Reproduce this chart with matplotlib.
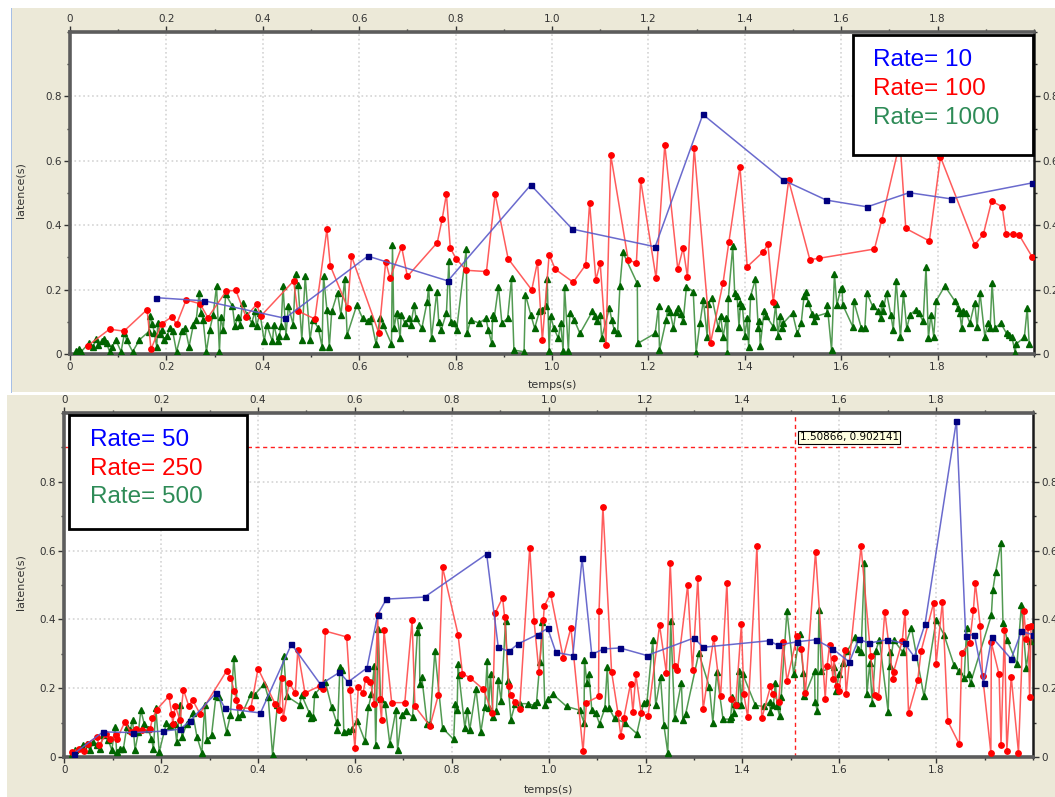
import matplotlib
matplotlib.use("Agg")
import matplotlib.pyplot as plt
from matplotlib.patches import Rectangle
from matplotlib.ticker import FixedLocator, FixedFormatter, MultipleLocator

W, H = 1055, 797

# ---- top panel: Rate = 10 / 100 / 1000 ----
t10 = [0.178, 0.279, 0.446, 0.618, 0.784, 0.956, 1.042, 1.214, 1.313, 1.480,
       1.569, 1.654, 1.741, 1.827, 1.995]
lat10 = [0.175, 0.165, 0.111, 0.304, 0.227, 0.525, 0.388, 0.333, 0.744, 0.540,
         0.478, 0.457, 0.501, 0.482, 0.531]

t100 = [0.037, 0.082, 0.112, 0.160, 0.168, 0.190, 0.212, 0.221, 0.241, 0.270,
        0.286, 0.324, 0.344, 0.365, 0.387, 0.396, 0.464, 0.472, 0.508, 0.533,
        0.540, 0.576, 0.584, 0.641, 0.655, 0.664, 0.688, 0.700, 0.762, 0.772,
        0.781, 0.789, 0.801, 0.822, 0.864, 0.882, 0.909, 0.958, 0.970, 0.980,
        0.994, 1.007, 1.044, 1.070, 1.078, 1.091, 1.100, 1.112, 1.122, 1.158,
        1.175, 1.184, 1.216, 1.234, 1.261, 1.272, 1.281, 1.295, 1.329, 1.355,
        1.367, 1.390, 1.405, 1.438, 1.448, 1.459, 1.491, 1.535, 1.553, 1.669,
        1.684, 1.722, 1.734, 1.783, 1.806, 1.877, 1.895, 1.912, 1.934, 1.942,
        1.956, 1.969, 1.996]
lat100 = [0.026, 0.077, 0.071, 0.138, 0.015, 0.094, 0.116, 0.092, 0.168, 0.156,
          0.113, 0.195, 0.198, 0.116, 0.154, 0.118, 0.227, 0.134, 0.109, 0.387,
          0.274, 0.144, 0.304, 0.064, 0.287, 0.235, 0.333, 0.241, 0.346, 0.418,
          0.497, 0.329, 0.296, 0.260, 0.256, 0.497, 0.296, 0.199, 0.287, 0.042,
          0.308, 0.263, 0.223, 0.277, 0.470, 0.230, 0.282, 0.028, 0.617, 0.293,
          0.282, 0.539, 0.235, 0.650, 0.263, 0.329, 0.240, 0.639, 0.035, 0.222,
          0.348, 0.582, 0.271, 0.317, 0.341, 0.161, 0.539, 0.293, 0.297, 0.326,
          0.415, 0.660, 0.390, 0.351, 0.612, 0.339, 0.372, 0.475, 0.457, 0.372,
          0.372, 0.370, 0.302]

t1000 = [0.012, 0.017, 0.019, 0.022, 0.040, 0.048, 0.054, 0.059, 0.066, 0.070,
         0.076, 0.082, 0.088, 0.095, 0.106, 0.113, 0.118, 0.130, 0.144, 0.163,
         0.167, 0.171, 0.175, 0.180, 0.182, 0.187, 0.191, 0.194, 0.201, 0.207,
         0.213, 0.221, 0.232, 0.239, 0.247, 0.256, 0.262, 0.268, 0.272, 0.276,
         0.283, 0.290, 0.297, 0.304, 0.310, 0.313, 0.318, 0.323, 0.337, 0.342,
         0.348, 0.353, 0.358, 0.367, 0.377, 0.384, 0.387, 0.394, 0.403, 0.408,
         0.420, 0.423, 0.431, 0.434, 0.438, 0.442, 0.448, 0.453, 0.463, 0.468,
         0.473, 0.481, 0.488, 0.498, 0.504, 0.515, 0.523, 0.526, 0.533, 0.538,
         0.543, 0.555, 0.562, 0.570, 0.575, 0.595, 0.607, 0.619, 0.624, 0.635,
         0.643, 0.650, 0.667, 0.669, 0.672, 0.678, 0.685, 0.687, 0.695, 0.704,
         0.707, 0.714, 0.718, 0.730, 0.741, 0.744, 0.750, 0.761, 0.765, 0.770,
         0.781, 0.786, 0.790, 0.797, 0.802, 0.822, 0.824, 0.831, 0.849, 0.863,
         0.868, 0.875, 0.877, 0.880, 0.889, 0.896, 0.908, 0.916, 0.921, 0.942,
         0.945, 0.956, 0.964, 0.974, 0.979, 0.987, 0.990, 0.994, 0.997, 1.004,
         1.013, 1.018, 1.023, 1.026, 1.034, 1.037, 1.046, 1.058, 1.084, 1.089,
         1.093, 1.100, 1.103, 1.119, 1.124, 1.129, 1.136, 1.141, 1.147, 1.177,
         1.178, 1.214, 1.221, 1.223, 1.237, 1.240, 1.245, 1.252, 1.257, 1.261,
         1.267, 1.272, 1.279, 1.293, 1.299, 1.307, 1.314, 1.322, 1.324, 1.332,
         1.345, 1.350, 1.355, 1.362, 1.364, 1.366, 1.375, 1.379, 1.384, 1.388,
         1.391, 1.395, 1.400, 1.405, 1.408, 1.412, 1.422, 1.428, 1.430, 1.432,
         1.440, 1.445, 1.459, 1.464, 1.469, 1.473, 1.477, 1.480, 1.499, 1.509,
         1.517, 1.523, 1.527, 1.532, 1.540, 1.544, 1.548, 1.570, 1.571, 1.580,
         1.586, 1.591, 1.599, 1.602, 1.603, 1.624, 1.626, 1.642, 1.649, 1.653,
         1.665, 1.677, 1.682, 1.684, 1.687, 1.694, 1.703, 1.708, 1.714, 1.723,
         1.729, 1.736, 1.743, 1.755, 1.761, 1.770, 1.776, 1.781, 1.786, 1.792,
         1.797, 1.815, 1.836, 1.842, 1.846, 1.850, 1.853, 1.859, 1.867, 1.877,
         1.882, 1.888, 1.898, 1.904, 1.909, 1.913, 1.919, 1.931, 1.943, 1.949,
         1.954, 1.961, 1.963, 1.980, 1.986, 1.990]
lat1000 = [0.010, 0.007, 0.014, 0.005, 0.035, 0.023, 0.046, 0.029, 0.039, 0.046,
           0.035, 0.007, 0.023, 0.044, 0.007, 0.065, 0.042, 0.007, 0.044, 0.069,
           0.117, 0.094, 0.065, 0.023, 0.097, 0.061, 0.076, 0.042, 0.055, 0.081,
           0.071, 0.007, 0.071, 0.081, 0.023, 0.091, 0.107, 0.190, 0.128, 0.107,
           0.007, 0.076, 0.122, 0.211, 0.007, 0.114, 0.076, 0.185, 0.149, 0.086,
           0.114, 0.091, 0.159, 0.122, 0.097, 0.132, 0.086, 0.128, 0.039, 0.091,
           0.039, 0.091, 0.039, 0.055, 0.086, 0.211, 0.055, 0.149, 0.091, 0.247,
           0.215, 0.045, 0.242, 0.045, 0.107, 0.081, 0.023, 0.242, 0.138, 0.023,
           0.132, 0.190, 0.122, 0.232, 0.059, 0.152, 0.111, 0.101, 0.111, 0.031,
           0.111, 0.090, 0.031, 0.339, 0.080, 0.128, 0.049, 0.122, 0.096, 0.111,
           0.090, 0.152, 0.111, 0.080, 0.163, 0.209, 0.049, 0.194, 0.100, 0.074,
           0.128, 0.288, 0.100, 0.095, 0.074, 0.325, 0.064, 0.106, 0.096, 0.111,
           0.074, 0.033, 0.122, 0.111, 0.209, 0.096, 0.111, 0.235, 0.012, 0.007,
           0.184, 0.122, 0.080, 0.133, 0.138, 0.149, 0.233, 0.010, 0.117, 0.080,
           0.049, 0.096, 0.010, 0.209, 0.010, 0.128, 0.106, 0.064, 0.133, 0.117,
           0.101, 0.122, 0.049, 0.143, 0.106, 0.075, 0.064, 0.212, 0.316, 0.219,
           0.033, 0.064, 0.148, 0.012, 0.106, 0.143, 0.131, 0.080, 0.131, 0.143,
           0.123, 0.101, 0.209, 0.194, 0.004, 0.096, 0.167, 0.054, 0.154, 0.175,
           0.081, 0.117, 0.054, 0.112, 0.004, 0.175, 0.335, 0.190, 0.180, 0.085,
           0.159, 0.149, 0.057, 0.112, 0.023, 0.180, 0.232, 0.081, 0.101, 0.026,
           0.133, 0.117, 0.085, 0.154, 0.057, 0.117, 0.081, 0.096, 0.127, 0.064,
           0.096, 0.180, 0.193, 0.159, 0.124, 0.101, 0.117, 0.127, 0.153, 0.012,
           0.248, 0.153, 0.201, 0.206, 0.153, 0.085, 0.164, 0.080, 0.080, 0.190,
           0.149, 0.133, 0.111, 0.159, 0.133, 0.190, 0.122, 0.075, 0.227, 0.052,
           0.190, 0.080, 0.122, 0.138, 0.127, 0.101, 0.270, 0.050, 0.122, 0.054,
           0.165, 0.211, 0.164, 0.144, 0.127, 0.080, 0.133, 0.127, 0.096, 0.159,
           0.085, 0.190, 0.054, 0.096, 0.080, 0.222, 0.080, 0.096, 0.064, 0.059,
           0.054, 0.004, 0.031, 0.052, 0.143, 0.031]

# ---- bottom panel: Rate = 50 / 250 / 500 ----
t50 = [0.020, 0.080, 0.142, 0.203, 0.239, 0.259, 0.314, 0.332, 0.405, 0.469,
       0.529, 0.568, 0.586, 0.625, 0.647, 0.665, 0.744, 0.872, 0.896, 0.918,
       0.937, 0.977, 0.998, 1.015, 1.050, 1.069, 1.089, 1.113, 1.147, 1.203,
       1.300, 1.319, 1.455, 1.473, 1.513, 1.551, 1.586, 1.621, 1.640, 1.661,
       1.699, 1.735, 1.755, 1.777, 1.842, 1.861, 1.879, 1.898, 1.915, 1.955,
       1.976, 1.999]
lat50 = [0.010, 0.073, 0.071, 0.075, 0.081, 0.104, 0.187, 0.141, 0.128, 0.328,
         0.211, 0.246, 0.218, 0.259, 0.414, 0.459, 0.465, 0.590, 0.319, 0.307,
         0.329, 0.356, 0.374, 0.304, 0.295, 0.578, 0.298, 0.314, 0.317, 0.295,
         0.346, 0.319, 0.338, 0.325, 0.335, 0.341, 0.315, 0.276, 0.343, 0.331,
         0.341, 0.330, 0.291, 0.386, 0.978, 0.353, 0.356, 0.215, 0.349, 0.285,
         0.365, 0.356]

t250 = [0.015, 0.030, 0.041, 0.048, 0.067, 0.072, 0.087, 0.094, 0.107, 0.109,
        0.125, 0.137, 0.149, 0.160, 0.177, 0.182, 0.191, 0.216, 0.222, 0.224,
        0.229, 0.239, 0.246, 0.257, 0.265, 0.280, 0.335, 0.343, 0.351, 0.355,
        0.360, 0.385, 0.400, 0.435, 0.444, 0.449, 0.452, 0.464, 0.477, 0.482,
        0.497, 0.528, 0.534, 0.539, 0.583, 0.590, 0.600, 0.607, 0.617, 0.622,
        0.632, 0.640, 0.647, 0.651, 0.655, 0.660, 0.676, 0.703, 0.718, 0.724,
        0.755, 0.772, 0.781, 0.813, 0.822, 0.837, 0.865, 0.884, 0.890, 0.905,
        0.909, 0.918, 0.922, 0.930, 0.940, 0.961, 0.970, 0.980, 0.989, 0.991,
        1.004, 1.030, 1.046, 1.071, 1.078, 1.103, 1.104, 1.112, 1.130, 1.143,
        1.149, 1.155, 1.169, 1.174, 1.180, 1.191, 1.205, 1.229, 1.243, 1.251,
        1.260, 1.266, 1.287, 1.297, 1.308, 1.319, 1.341, 1.355, 1.368, 1.376,
        1.386, 1.398, 1.403, 1.411, 1.430, 1.440, 1.458, 1.463, 1.475, 1.484,
        1.492, 1.513, 1.522, 1.530, 1.551, 1.571, 1.575, 1.580, 1.587, 1.589,
        1.595, 1.599, 1.611, 1.614, 1.645, 1.665, 1.673, 1.681, 1.694, 1.711,
        1.712, 1.730, 1.736, 1.743, 1.762, 1.769, 1.795, 1.800, 1.813, 1.824,
        1.848, 1.853, 1.869, 1.877, 1.881, 1.891, 1.896, 1.913, 1.914, 1.930,
        1.934, 1.941, 1.946, 1.955, 1.970, 1.981, 1.986, 1.990, 1.993, 1.996]
lat250 = [0.015, 0.024, 0.018, 0.039, 0.058, 0.034, 0.068, 0.053, 0.063, 0.053,
          0.102, 0.073, 0.080, 0.078, 0.080, 0.112, 0.138, 0.177, 0.124, 0.097,
          0.148, 0.107, 0.196, 0.148, 0.165, 0.126, 0.250, 0.231, 0.192, 0.167,
          0.144, 0.141, 0.257, 0.155, 0.138, 0.230, 0.113, 0.216, 0.186, 0.310,
          0.186, 0.207, 0.199, 0.366, 0.349, 0.196, 0.026, 0.203, 0.187, 0.226,
          0.218, 0.155, 0.414, 0.168, 0.107, 0.368, 0.158, 0.158, 0.397, 0.147,
          0.090, 0.179, 0.551, 0.356, 0.242, 0.231, 0.197, 0.128, 0.420, 0.463,
          0.407, 0.206, 0.179, 0.160, 0.139, 0.609, 0.394, 0.247, 0.397, 0.439,
          0.475, 0.289, 0.376, 0.017, 0.158, 0.176, 0.424, 0.728, 0.247, 0.129,
          0.062, 0.112, 0.213, 0.131, 0.240, 0.129, 0.118, 0.383, 0.245, 0.565,
          0.264, 0.252, 0.499, 0.252, 0.519, 0.139, 0.347, 0.176, 0.506, 0.170,
          0.150, 0.386, 0.182, 0.115, 0.612, 0.112, 0.205, 0.182, 0.160, 0.333,
          0.221, 0.352, 0.313, 0.186, 0.596, 0.170, 0.265, 0.327, 0.228, 0.289,
          0.205, 0.192, 0.310, 0.182, 0.613, 0.294, 0.179, 0.174, 0.422, 0.228,
          0.247, 0.337, 0.422, 0.128, 0.223, 0.308, 0.449, 0.271, 0.452, 0.104,
          0.037, 0.303, 0.330, 0.428, 0.506, 0.382, 0.235, 0.013, 0.333, 0.240,
          0.034, 0.370, 0.017, 0.234, 0.013, 0.424, 0.344, 0.378, 0.173, 0.380]

t500 = [0.015, 0.022, 0.039, 0.046, 0.053, 0.060, 0.067, 0.074, 0.080, 0.091,
        0.098, 0.105, 0.108, 0.116, 0.122, 0.129, 0.136, 0.141, 0.146, 0.153,
        0.158, 0.165, 0.173, 0.180, 0.184, 0.189, 0.196, 0.211, 0.218, 0.228,
        0.232, 0.239, 0.243, 0.253, 0.265, 0.274, 0.284, 0.290, 0.294, 0.304,
        0.313, 0.320, 0.335, 0.343, 0.350, 0.359, 0.367, 0.385, 0.393, 0.413,
        0.421, 0.430, 0.440, 0.453, 0.459, 0.486, 0.490, 0.506, 0.509, 0.514,
        0.517, 0.539, 0.552, 0.562, 0.564, 0.569, 0.574, 0.577, 0.586, 0.593,
        0.605, 0.621, 0.628, 0.634, 0.640, 0.643, 0.648, 0.653, 0.662, 0.672,
        0.685, 0.688, 0.697, 0.705, 0.719, 0.729, 0.733, 0.734, 0.738, 0.749,
        0.755, 0.765, 0.781, 0.804, 0.807, 0.811, 0.813, 0.815, 0.827, 0.832,
        0.837, 0.850, 0.860, 0.868, 0.873, 0.876, 0.880, 0.885, 0.892, 0.896,
        0.902, 0.911, 0.916, 0.922, 0.931, 0.940, 0.958, 0.969, 0.975, 0.982,
        0.987, 0.992, 0.999, 1.009, 1.037, 1.064, 1.073, 1.074, 1.079, 1.083,
        1.089, 1.097, 1.105, 1.116, 1.121, 1.125, 1.136, 1.157, 1.182, 1.196,
        1.203, 1.215, 1.221, 1.231, 1.238, 1.246, 1.252, 1.260, 1.274, 1.277,
        1.283, 1.310, 1.332, 1.339, 1.347, 1.360, 1.374, 1.376, 1.379, 1.382,
        1.385, 1.391, 1.394, 1.398, 1.401, 1.427, 1.444, 1.456, 1.458, 1.464,
        1.468, 1.472, 1.477, 1.480, 1.492, 1.506, 1.518, 1.526, 1.528, 1.549,
        1.550, 1.555, 1.558, 1.563, 1.590, 1.594, 1.599, 1.608, 1.616, 1.633,
        1.638, 1.645, 1.652, 1.657, 1.663, 1.668, 1.675, 1.683, 1.701, 1.704,
        1.705, 1.712, 1.731, 1.749, 1.775, 1.800, 1.816, 1.837, 1.847, 1.858,
        1.863, 1.867, 1.871, 1.914, 1.917, 1.923, 1.934, 1.938, 1.947, 1.967,
        1.976, 1.986, 1.994]
lat500 = [0.008, 0.020, 0.034, 0.039, 0.020, 0.044, 0.034, 0.024, 0.063, 0.049,
          0.020, 0.087, 0.015, 0.024, 0.024, 0.087, 0.078, 0.107, 0.020, 0.073,
          0.136, 0.097, 0.082, 0.053, 0.024, 0.141, 0.015, 0.100, 0.090, 0.097,
          0.044, 0.150, 0.058, 0.097, 0.128, 0.058, 0.012, 0.150, 0.049, 0.063,
          0.176, 0.174, 0.073, 0.121, 0.289, 0.116, 0.126, 0.182, 0.181, 0.213,
          0.174, 0.005, 0.152, 0.294, 0.177, 0.152, 0.180, 0.128, 0.112, 0.116,
          0.182, 0.218, 0.145, 0.102, 0.078, 0.262, 0.254, 0.073, 0.075, 0.080,
          0.104, 0.046, 0.145, 0.182, 0.264, 0.034, 0.373, 0.170, 0.155, 0.039,
          0.138, 0.021, 0.121, 0.134, 0.116, 0.362, 0.383, 0.213, 0.233, 0.097,
          0.097, 0.307, 0.084, 0.051, 0.155, 0.136, 0.269, 0.237, 0.084, 0.138,
          0.078, 0.197, 0.073, 0.145, 0.279, 0.141, 0.242, 0.116, 0.133, 0.225,
          0.162, 0.394, 0.220, 0.109, 0.155, 0.155, 0.155, 0.150, 0.160, 0.276,
          0.392, 0.150, 0.170, 0.182, 0.147, 0.136, 0.100, 0.283, 0.215, 0.242,
          0.138, 0.128, 0.097, 0.141, 0.262, 0.141, 0.112, 0.100, 0.068, 0.157,
          0.160, 0.339, 0.150, 0.233, 0.092, 0.012, 0.394, 0.112, 0.216, 0.107,
          0.126, 0.302, 0.203, 0.100, 0.246, 0.110, 0.110, 0.116, 0.173, 0.129,
          0.155, 0.152, 0.249, 0.150, 0.240, 0.150, 0.147, 0.160, 0.131, 0.150,
          0.216, 0.147, 0.118, 0.174, 0.424, 0.240, 0.357, 0.244, 0.176, 0.249,
          0.160, 0.133, 0.426, 0.249, 0.262, 0.191, 0.240, 0.273, 0.307, 0.349,
          0.315, 0.305, 0.565, 0.182, 0.273, 0.158, 0.308, 0.341, 0.131, 0.305,
          0.264, 0.341, 0.305, 0.376, 0.176, 0.399, 0.356, 0.267, 0.249, 0.231,
          0.375, 0.242, 0.215, 0.412, 0.485, 0.538, 0.622, 0.390, 0.339, 0.270,
          0.443, 0.260, 0.336]

# cursor readout shown on the lower plot
cross_t = 1.50866
cross_lat = 0.902141

x_ticks = [0, 0.2, 0.4, 0.6, 0.8, 1.0, 1.2, 1.4, 1.6, 1.8]
x_labels = ["0", "0.2", "0.4", "0.6", "0.8", "1.0", "1.2", "1.4", "1.6", "1.8"]
y_ticks = [0, 0.2, 0.4, 0.6, 0.8]
y_labels = ["0", "0.2", "0.4", "0.6", "0.8"]

top_legend = ["Rate= 10", "Rate= 100", "Rate= 1000"]
bottom_legend = ["Rate= 50", "Rate= 250", "Rate= 500"]

BLUE_LINE, BLUE_MK = "#5a5ac8", "#00007f"
RED_LINE, RED_MK = "#ff4a4a", "#ff0000"
GREEN_LINE, GREEN_MK = "#3f8f3f", "#006400"
LEGEND_COLORS = ["#0000ff", "#ff0000", "#2e8b57"]
BEIGE = "#ece9d8"


def fx(px):
    return px / W


def fy(py):
    return 1 - py / H


fig = plt.figure(figsize=(W / 100, H / 100), dpi=100, facecolor="white")

# window-like backgrounds (behind the axes)
fig.patches.append(Rectangle((fx(12), fy(392)), fx(1043), 384 / H,
                             transform=fig.transFigure, facecolor=BEIGE,
                             edgecolor="none", zorder=-5))
fig.patches.append(Rectangle((fx(10.5), fy(393)), fx(1.5), 385 / H,
                             transform=fig.transFigure, facecolor="#a6bfe6",
                             edgecolor="none", zorder=-5))
fig.patches.append(Rectangle((fx(7), 0), fx(1048), 402 / H,
                             transform=fig.transFigure, facecolor=BEIGE,
                             edgecolor="none", zorder=-5))

ax1 = fig.add_axes([fx(70), fy(354), 964 / W, 322 / H])
ax2 = fig.add_axes([fx(64.3), fy(757), 968.7 / W, 344 / H])


def style_axes(ax):
    ax.set_facecolor("white")
    ax.set_xlim(0, 2.0)
    ax.set_ylim(0, 1.0)
    ax.xaxis.set_major_locator(FixedLocator(x_ticks))
    ax.xaxis.set_major_formatter(FixedFormatter(x_labels))
    ax.yaxis.set_major_locator(FixedLocator(y_ticks))
    ax.yaxis.set_major_formatter(FixedFormatter(y_labels))
    ax.xaxis.set_minor_locator(MultipleLocator(0.1))
    ax.yaxis.set_minor_locator(MultipleLocator(0.1))
    ax.tick_params(which="both", direction="out", top=True, right=True,
                   labeltop=True, labelright=True, colors="#333333",
                   labelsize=7.5, pad=2)
    ax.tick_params(which="major", length=4, width=1)
    ax.tick_params(which="minor", length=2.5, width=1)
    ax.grid(True, which="major", color="#d4d4d4", linestyle=":", linewidth=1.2)
    ax.set_axisbelow(True)
    for side in ["left", "top", "bottom"]:
        ax.spines[side].set_linewidth(2.6)
        ax.spines[side].set_color("#5c5c5c")
    ax.spines["right"].set_linewidth(1.8)
    ax.spines["right"].set_color("#1a1a1a")


def draw_series(ax, t, lat, line_color, mk_color, marker, ms, z):
    ax.plot(t, lat, color=line_color, linewidth=1.1, alpha=0.9, zorder=z)
    ax.plot(t, lat, linestyle="none", marker=marker, markersize=ms,
            markerfacecolor=mk_color, markeredgecolor=mk_color, zorder=z + 0.1)


def draw_legend(ax, box, text_x, text_ys, labels):
    x0, y0, x1, y1 = box
    ax.add_patch(Rectangle((x0, y0), x1 - x0, y1 - y0, transform=ax.transAxes,
                           facecolor="white", edgecolor="black", linewidth=2,
                           zorder=10, clip_on=False))
    for y, lab, c in zip(text_ys, labels, LEGEND_COLORS):
        ax.text(text_x, y, lab, transform=ax.transAxes, color=c,
                fontsize=17.5, family="Liberation Sans", va="center",
                ha="left", zorder=11)


# top panel
style_axes(ax1)
draw_series(ax1, t1000, lat1000, GREEN_LINE, GREEN_MK, "^", 4.2, 3)
draw_series(ax1, t100, lat100, RED_LINE, RED_MK, "o", 3.9, 4)
draw_series(ax1, t10, lat10, BLUE_LINE, BLUE_MK, "s", 3.6, 5)
draw_legend(ax1, (0.812, 0.618, 0.999, 0.991), 0.833,
            [0.913, 0.823, 0.733], top_legend)

# bottom panel
style_axes(ax2)
ax2.axvline(cross_t, color="#ff2020", linestyle=(0, (3, 2.5)), linewidth=1,
            zorder=2)
ax2.axhline(cross_lat, color="#ff2020", linestyle=(0, (3, 2.5)), linewidth=1,
            zorder=2)
draw_series(ax2, t500, lat500, GREEN_LINE, GREEN_MK, "^", 4.2, 3)
draw_series(ax2, t250, lat250, RED_LINE, RED_MK, "o", 3.9, 4)
draw_series(ax2, t50, lat50, BLUE_LINE, BLUE_MK, "s", 3.6, 5)
draw_legend(ax2, (0.005, 0.663, 0.189, 0.994), 0.0265,
            [0.922, 0.837, 0.756], bottom_legend)
ax2.text(0.759, 0.930, f"{cross_t:.5f}, {cross_lat:.6f}",
         transform=ax2.transAxes, fontsize=7.5, color="black", va="center",
         ha="left", zorder=12,
         bbox=dict(boxstyle="square,pad=0.15", facecolor="#ffffe1",
                   edgecolor="black", linewidth=0.8))

# axis titles
for ypx in (190, 582):
    fig.text(fx(20), fy(ypx), "latence(s)", rotation=90, ha="center",
             va="center", fontsize=8, color="#333333")
fig.text(fx(552), fy(385), "temps(s)", ha="center", va="center",
         fontsize=8, color="#333333")
fig.text(fx(548), fy(790), "temps(s)", ha="center", va="center",
         fontsize=8, color="#333333")

fig.savefig("out.png", dpi=100, facecolor=fig.get_facecolor())
